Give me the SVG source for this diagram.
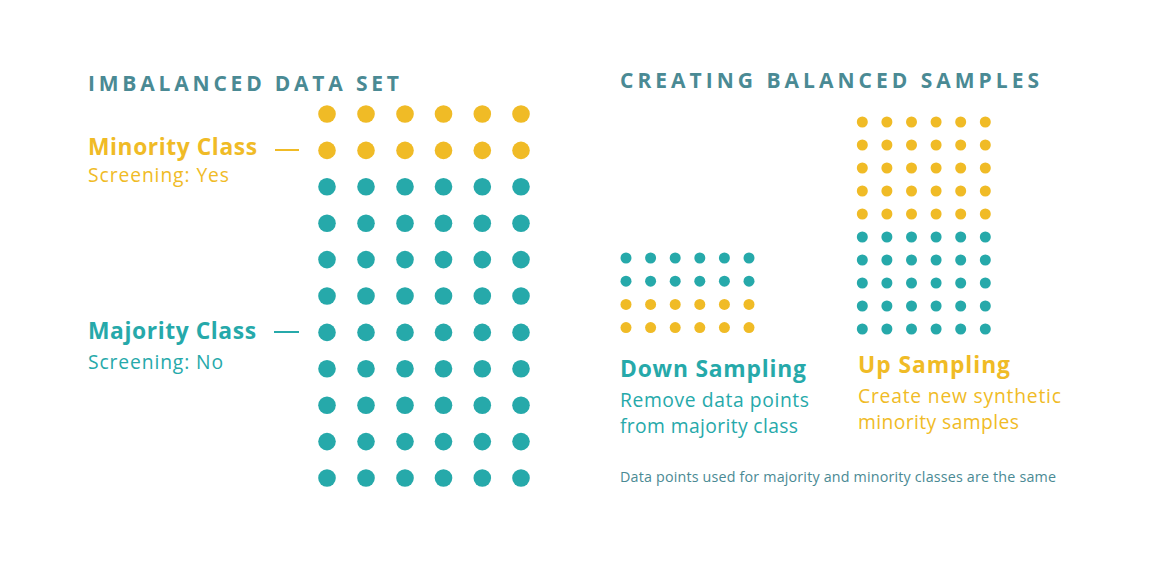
<svg xmlns="http://www.w3.org/2000/svg" width="1150" height="575" viewBox="0 0 1150 575">
<style>
.y{fill:#f0bb26}
.t{fill:#26a9aa}
.h{font-family:"Open Sans",Lato,sans-serif;font-weight:700;fill:#4a8a94;font-size:21px;letter-spacing:3px}
.lb{font-family:"Open Sans",Lato,sans-serif;font-weight:700;font-size:22.8px}
.ls{font-family:"Open Sans",Lato,sans-serif;font-weight:400;font-size:19.3px}
.ty{fill:#f0bb26}
.tt{fill:#26a9aa}
.note{font-family:"Open Sans",Lato,sans-serif;font-size:14.3px;fill:#4a8a94}
</style>
<defs>
<circle id="big" r="8.8"/>
<circle id="sm" r="5.5"/>
</defs>
<rect width="1150" height="575" fill="#fff"/>
<text class="h" x="88" y="91" textLength="314" lengthAdjust="spacing">IMBALANCED DATA SET</text>
<text class="h" x="620" y="88" textLength="422" lengthAdjust="spacing">CREATING BALANCED SAMPLES</text>
<g id="minority-label">
<text class="lb ty" x="88" y="155" textLength="169" lengthAdjust="spacing">Minority Class</text>
<text class="ls ty" x="88" y="182" textLength="141" lengthAdjust="spacing">Screening: Yes</text>
<line x1="275" y1="150" x2="299" y2="150" stroke="#f0bb26" stroke-width="2"/>
</g>
<g id="majority-label">
<text class="lb tt" x="88" y="339" textLength="168" lengthAdjust="spacing">Majority Class</text>
<text class="ls tt" x="88" y="369" textLength="135" lengthAdjust="spacing">Screening: No</text>
<line x1="274" y1="332" x2="299" y2="332" stroke="#26a9aa" stroke-width="2"/>
</g>
<g id="imbalanced-grid">
<g class="y">
<use href="#big" x="327" y="114"/><use href="#big" x="366" y="114"/><use href="#big" x="405" y="114"/><use href="#big" x="443.5" y="114"/><use href="#big" x="482.3" y="114"/><use href="#big" x="521" y="114"/>
<use href="#big" x="327" y="150.4"/><use href="#big" x="366" y="150.4"/><use href="#big" x="405" y="150.4"/><use href="#big" x="443.5" y="150.4"/><use href="#big" x="482.3" y="150.4"/><use href="#big" x="521" y="150.4"/>
</g>
<g class="t">
<use href="#big" x="327" y="186.8"/><use href="#big" x="366" y="186.8"/><use href="#big" x="405" y="186.8"/><use href="#big" x="443.5" y="186.8"/><use href="#big" x="482.3" y="186.8"/><use href="#big" x="521" y="186.8"/>
<use href="#big" x="327" y="223.2"/><use href="#big" x="366" y="223.2"/><use href="#big" x="405" y="223.2"/><use href="#big" x="443.5" y="223.2"/><use href="#big" x="482.3" y="223.2"/><use href="#big" x="521" y="223.2"/>
<use href="#big" x="327" y="259.6"/><use href="#big" x="366" y="259.6"/><use href="#big" x="405" y="259.6"/><use href="#big" x="443.5" y="259.6"/><use href="#big" x="482.3" y="259.6"/><use href="#big" x="521" y="259.6"/>
<use href="#big" x="327" y="296"/><use href="#big" x="366" y="296"/><use href="#big" x="405" y="296"/><use href="#big" x="443.5" y="296"/><use href="#big" x="482.3" y="296"/><use href="#big" x="521" y="296"/>
<use href="#big" x="327" y="332.4"/><use href="#big" x="366" y="332.4"/><use href="#big" x="405" y="332.4"/><use href="#big" x="443.5" y="332.4"/><use href="#big" x="482.3" y="332.4"/><use href="#big" x="521" y="332.4"/>
<use href="#big" x="327" y="368.8"/><use href="#big" x="366" y="368.8"/><use href="#big" x="405" y="368.8"/><use href="#big" x="443.5" y="368.8"/><use href="#big" x="482.3" y="368.8"/><use href="#big" x="521" y="368.8"/>
<use href="#big" x="327" y="405.2"/><use href="#big" x="366" y="405.2"/><use href="#big" x="405" y="405.2"/><use href="#big" x="443.5" y="405.2"/><use href="#big" x="482.3" y="405.2"/><use href="#big" x="521" y="405.2"/>
<use href="#big" x="327" y="441.6"/><use href="#big" x="366" y="441.6"/><use href="#big" x="405" y="441.6"/><use href="#big" x="443.5" y="441.6"/><use href="#big" x="482.3" y="441.6"/><use href="#big" x="521" y="441.6"/>
<use href="#big" x="327" y="478"/><use href="#big" x="366" y="478"/><use href="#big" x="405" y="478"/><use href="#big" x="443.5" y="478"/><use href="#big" x="482.3" y="478"/><use href="#big" x="521" y="478"/>
</g>
</g>
<g id="down-sampling">
<g class="t">
<use href="#sm" x="626" y="258"/><use href="#sm" x="650.6" y="258"/><use href="#sm" x="675.2" y="258"/><use href="#sm" x="699.8" y="258"/><use href="#sm" x="724.4" y="258"/><use href="#sm" x="749" y="258"/>
<use href="#sm" x="626" y="281.2"/><use href="#sm" x="650.6" y="281.2"/><use href="#sm" x="675.2" y="281.2"/><use href="#sm" x="699.8" y="281.2"/><use href="#sm" x="724.4" y="281.2"/><use href="#sm" x="749" y="281.2"/>
</g>
<g class="y">
<use href="#sm" x="626" y="304.4"/><use href="#sm" x="650.6" y="304.4"/><use href="#sm" x="675.2" y="304.4"/><use href="#sm" x="699.8" y="304.4"/><use href="#sm" x="724.4" y="304.4"/><use href="#sm" x="749" y="304.4"/>
<use href="#sm" x="626" y="327.6"/><use href="#sm" x="650.6" y="327.6"/><use href="#sm" x="675.2" y="327.6"/><use href="#sm" x="699.8" y="327.6"/><use href="#sm" x="724.4" y="327.6"/><use href="#sm" x="749" y="327.6"/>
</g>
<text class="lb tt" x="620" y="377" font-size="23.5" textLength="186" lengthAdjust="spacing">Down Sampling</text>
<text class="ls tt" x="620" y="407" font-size="20.3" textLength="189" lengthAdjust="spacing">Remove data points</text>
<text class="ls tt" x="620" y="433" font-size="20.3" textLength="178" lengthAdjust="spacing">from majority class</text>
</g>
<g id="up-sampling">
<g class="y">
<use href="#sm" x="862.3" y="122"/><use href="#sm" x="886.9" y="122"/><use href="#sm" x="911.5" y="122"/><use href="#sm" x="936.1" y="122"/><use href="#sm" x="960.7" y="122"/><use href="#sm" x="985.3" y="122"/>
<use href="#sm" x="862.3" y="145"/><use href="#sm" x="886.9" y="145"/><use href="#sm" x="911.5" y="145"/><use href="#sm" x="936.1" y="145"/><use href="#sm" x="960.7" y="145"/><use href="#sm" x="985.3" y="145"/>
<use href="#sm" x="862.3" y="168"/><use href="#sm" x="886.9" y="168"/><use href="#sm" x="911.5" y="168"/><use href="#sm" x="936.1" y="168"/><use href="#sm" x="960.7" y="168"/><use href="#sm" x="985.3" y="168"/>
<use href="#sm" x="862.3" y="191"/><use href="#sm" x="886.9" y="191"/><use href="#sm" x="911.5" y="191"/><use href="#sm" x="936.1" y="191"/><use href="#sm" x="960.7" y="191"/><use href="#sm" x="985.3" y="191"/>
<use href="#sm" x="862.3" y="214"/><use href="#sm" x="886.9" y="214"/><use href="#sm" x="911.5" y="214"/><use href="#sm" x="936.1" y="214"/><use href="#sm" x="960.7" y="214"/><use href="#sm" x="985.3" y="214"/>
</g>
<g class="t">
<use href="#sm" x="862.3" y="237"/><use href="#sm" x="886.9" y="237"/><use href="#sm" x="911.5" y="237"/><use href="#sm" x="936.1" y="237"/><use href="#sm" x="960.7" y="237"/><use href="#sm" x="985.3" y="237"/>
<use href="#sm" x="862.3" y="260"/><use href="#sm" x="886.9" y="260"/><use href="#sm" x="911.5" y="260"/><use href="#sm" x="936.1" y="260"/><use href="#sm" x="960.7" y="260"/><use href="#sm" x="985.3" y="260"/>
<use href="#sm" x="862.3" y="283"/><use href="#sm" x="886.9" y="283"/><use href="#sm" x="911.5" y="283"/><use href="#sm" x="936.1" y="283"/><use href="#sm" x="960.7" y="283"/><use href="#sm" x="985.3" y="283"/>
<use href="#sm" x="862.3" y="306"/><use href="#sm" x="886.9" y="306"/><use href="#sm" x="911.5" y="306"/><use href="#sm" x="936.1" y="306"/><use href="#sm" x="960.7" y="306"/><use href="#sm" x="985.3" y="306"/>
<use href="#sm" x="862.3" y="329"/><use href="#sm" x="886.9" y="329"/><use href="#sm" x="911.5" y="329"/><use href="#sm" x="936.1" y="329"/><use href="#sm" x="960.7" y="329"/><use href="#sm" x="985.3" y="329"/>
</g>
<text class="lb ty" x="858" y="373" font-size="23.5" textLength="152" lengthAdjust="spacing">Up Sampling</text>
<text class="ls ty" x="858" y="403" font-size="20.3" textLength="203" lengthAdjust="spacing">Create new synthetic</text>
<text class="ls ty" x="858" y="429" font-size="20.3" textLength="161" lengthAdjust="spacing">minority samples</text>
</g>
<text class="note" x="620" y="482" textLength="436" lengthAdjust="spacing">Data points used for majority and minority classes are the same</text>
</svg>
